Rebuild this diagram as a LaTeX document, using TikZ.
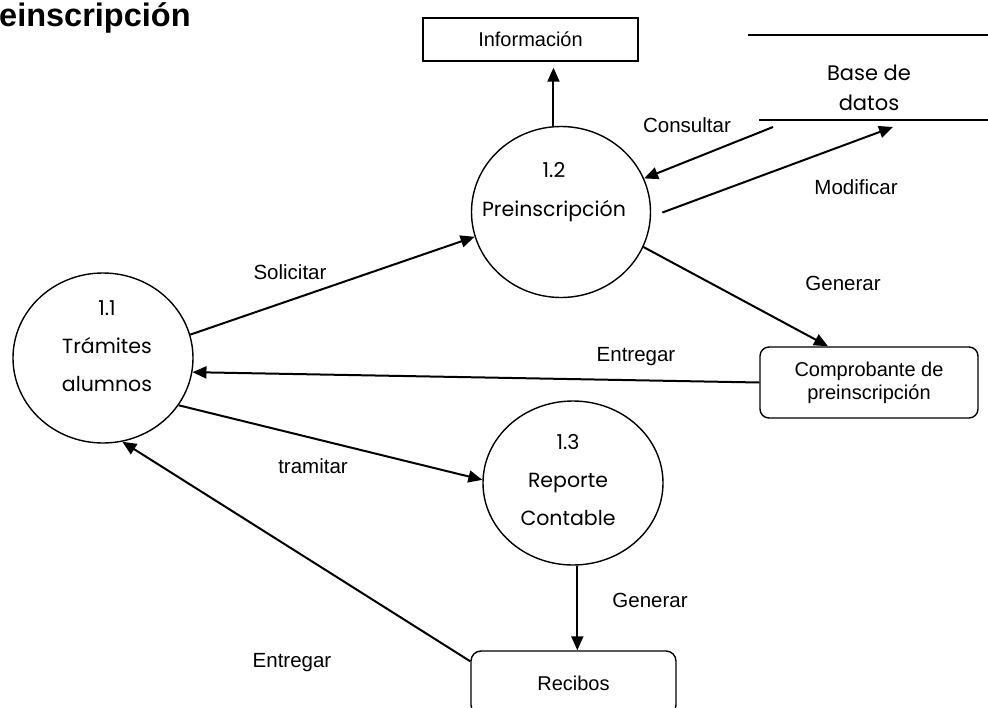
\documentclass[tikz,border=0pt]{standalone}
\usepackage{fontspec}
\setmainfont{Liberation Sans}
\newfontfamily\procfont{Poppins}
\usetikzlibrary{arrows.meta,shapes.geometric,calc}

\begin{document}
\begin{tikzpicture}[x=1pt,y=-1pt,
  proc/.style={draw, ellipse, line width=1.4pt, inner sep=0pt},
  ptext/.style={font=\procfont\fontsize{20.5}{38}\selectfont, align=center, inner sep=0pt},
  lbl/.style={font=\fontsize{20.5}{24}\selectfont, inner sep=0pt},
  entity/.style={draw, line width=1.4pt, inner sep=0pt, font=\fontsize{20}{24}\selectfont, align=center},
  flow/.style={line width=2pt, -{Triangle[length=14pt,width=12pt]}},
  storeline/.style={line width=1.5pt}]

\useasboundingbox (0,0) rectangle (988,707);
\clip (0,0) rectangle (988,707);

% title
\node[anchor=base west, inner sep=0pt, font=\bfseries\fontsize{32.5}{38}\selectfont] (title) at (-1,26) {einscripción};

% processes
\node[proc, minimum width=180pt, minimum height=170pt] (n11) at (103,358) {};
\node[ptext] (t11) at (107,346) {1.1\\Trámites\\alumnos};

\node[proc, minimum width=179pt, minimum height=171pt] (n12) at (561,212) {};
\node[ptext, font=\procfont\fontsize{20.5}{39}\selectfont] (t12) at (554,192) {1.2\\Preinscripción};

\node[proc, minimum width=180pt, minimum height=164pt] (n13) at (573,483) {};
\node[ptext] (t13) at (568,480) {1.3\\Reporte\\Contable};

% external entities
\node[entity, minimum width=215pt, minimum height=43pt] (info) at (530.5,39.5) {Información};
\node[entity, rounded corners=9pt, minimum width=218pt, minimum height=71pt,
      font=\fontsize{20}{23}\selectfont] (comp) at (869,382.5) {Comprobante de\\preinscripción};
\node[entity, rounded corners=10pt, minimum width=205pt, minimum height=64pt] (rec) at (573.5,683) {Recibos};

% data store
\node[ptext, font=\procfont\fontsize{21}{30}\selectfont] (db) at (869,88) {Base de\\datos};
\draw[storeline] (748,35) -- (988,35);
\draw[storeline] (759,120) -- (988,120);
\coordinate (dbout) at (773,127);
\coordinate (dbin) at (893,127);

% flows
\draw[flow, shorten >=6pt] (n12.95) -- (n12.95 |- info.south);
\draw[flow] (dbout) -- (n12.22);
\draw[flow, shorten <=12pt] (n12.-3) -- (dbin);
\draw[flow] (n11.15) -- (n12.196);
\draw[flow] (n12.-23) -- ([xshift=-41pt]comp.north);
\draw[flow] (comp.west) -- (n11.-9);
\draw[flow] (n11.-32) -- (n13.178);
\draw[flow] (n13.-87) -- (n13.-87 |- rec.north);
\draw[flow] ([yshift=-11pt]rec.north west) -- (n11.-77);

% flow labels
\node[lbl] (lsol) at (290,272) {Solicitar};
\node[lbl] (lgen1) at (843,283) {Generar};
\node[lbl] (lent1) at (636,357) {Entregar};
\node[lbl] (ltra) at (313,466) {tramitar};
\node[lbl] (lcon) at (687,125) {Consultar};
\node[lbl] (lmod) at (856,187) {Modificar};
\node[lbl] (lgen2) at (650,600) {Generar};
\node[lbl] (lent2) at (292,663) {Entregar};
\end{tikzpicture}
\end{document}
